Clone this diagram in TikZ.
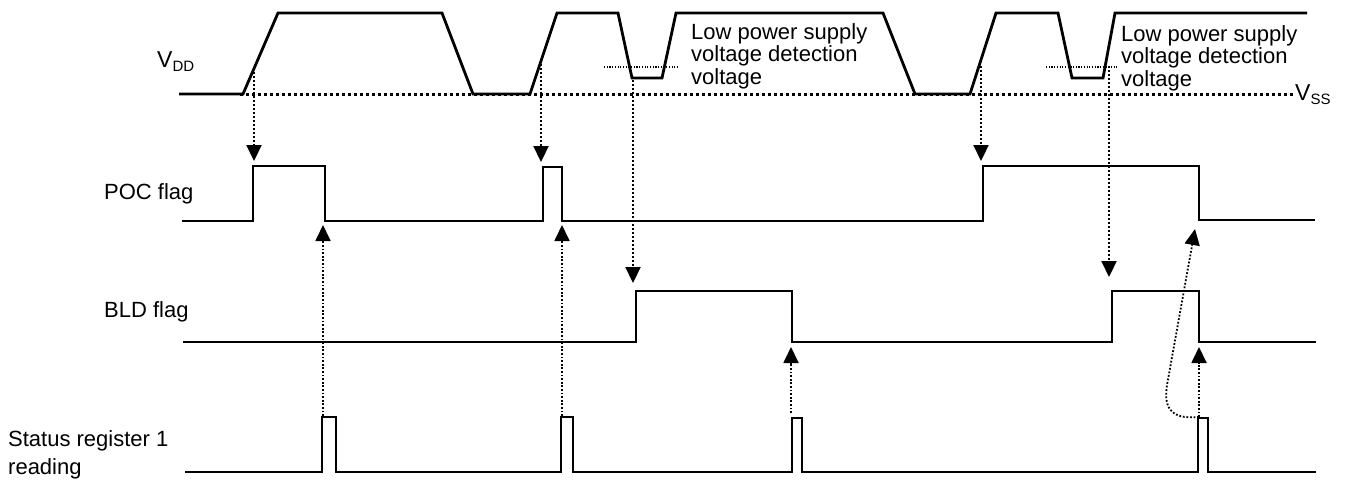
\documentclass[tikz,border=0pt]{standalone}
\usepackage{fontspec}
\setmainfont{Liberation Sans}
\usetikzlibrary{arrows.meta}
\tikzset{
	signal/.style = {
		line width=2.8pt,
		line join=miter
	},
	level_line/.style = {
		line width=3pt,
		dash pattern=on 3pt off 3pt
	},
	detect_line/.style = {
		line width=1.2pt,
		dash pattern=on 1.2pt off 1.5pt
	},
	trig_arrow/.style = {
		->,
		line width=2.2pt,
		dash pattern=on 2.2pt off 1.8pt
	},
	read_arrow/.style = {
		->,
		line width=1.8pt,
		dash pattern=on 1.8pt off 1.8pt
	},
	label_text/.style = {
		inner sep=0pt,
		font=\fontsize{22}{22.5}\selectfont
	},
	note_text/.style = {
		label_text,
		align=left,
		anchor=north west
	},
}
\newcommand{\lowidx}[1]{\raisebox{-4.5pt}{\fontsize{15}{15}\selectfont #1}}

\begin{document}
\begin{tikzpicture}[x=1pt, y=-1pt, >={Triangle[length=16pt,width=15pt]}]
\useasboundingbox (0,0) rectangle (1349,480);

% labels
\node [label_text, anchor=base west, font=\fontsize{23}{23}\selectfont] (vdd) at (157,67) {V\lowidx{DD}};
\node [label_text, anchor=base west, font=\fontsize{23}{23}\selectfont] (vss) at (1295,100) {V\lowidx{SS}};
\node [label_text, anchor=base west] (poc) at (104,199) {POC flag};
\node [label_text, anchor=base west] (bld) at (104,317) {BLD flag};
\node [note_text, font=\fontsize{22}{28}\selectfont] (status) at (8,430) {Status register 1\\reading};
\node [note_text] (detect_a) at (691,23) {Low power supply\\voltage detection\\voltage};
\node [note_text] (detect_b) at (1121,25) {Low power supply\\voltage detection\\voltage};

% VSS level and detection levels
\draw [level_line] (240,94) -- (1293,94);
\draw [detect_line] (604,67) -- (678,67);
\draw [detect_line] (1046,67) -- (1118,67);

% waveforms
\draw [signal] (179,94) -- (243,94) -- (278,13) -- (442,13) -- (473,94) -- (530,94) -- (557,13) -- (618,13) -- (632,78) -- (662,78) -- (676,13) -- (883,13) -- (915,94) -- (970,94) -- (996,13) -- (1058,13) -- (1072,78) -- (1103,78) -- (1115,13) -- (1307,13);
\draw [signal] (182,221) -- (253,221) -- (253,166) -- (325,166) -- (325,221) -- (543,221) -- (543,167) -- (562,167) -- (562,221) -- (983,221) -- (983,166) -- (1199,166) -- (1199,220) -- (1315,220);
\draw [signal] (183,342) -- (636,342) -- (636,291) -- (792,291) -- (792,342) -- (1112,342) -- (1112,291) -- (1199,291) -- (1199,342) -- (1316,342);
\draw [signal] (185,472) -- (322,472) -- (322,417) -- (336,417) -- (336,472) -- (561,472) -- (561,417) -- (573,417) -- (573,472) -- (792,472) -- (792,418) -- (802,418) -- (802,472) -- (1198,472) -- (1198,418) -- (1208,418) -- (1208,472) -- (1316,472);

% arrow ends
\coordinate (vdd_r1) at (254,72);
\coordinate (poc_r1) at (254,161);
\coordinate (vdd_r2) at (541,64);
\coordinate (poc_r2) at (541,162);
\coordinate (vdd_d1) at (633,80);
\coordinate (bld_r1) at (633,283);
\coordinate (vdd_r3) at (981,66);
\coordinate (poc_r3) at (981,161);
\coordinate (vdd_d2) at (1109,66);
\coordinate (bld_r2) at (1109,277);
\coordinate (read_1) at (323,416);
\coordinate (poc_f1) at (323,225);
\coordinate (read_2) at (562,416);
\coordinate (poc_f2) at (562,225);
\coordinate (read_3) at (791,413);
\coordinate (bld_f1) at (791,347);
\coordinate (read_4) at (1199,417);
\coordinate (bld_f2) at (1199,347);
\coordinate (poc_f3) at (1195,229);

% supply events
\draw [trig_arrow] (vdd_r1) -- (poc_r1);
\draw [trig_arrow] (vdd_r2) -- (poc_r2);
\draw [trig_arrow] (vdd_d1) -- (bld_r1);
\draw [trig_arrow] (vdd_r3) -- (poc_r3);
\draw [trig_arrow] (vdd_d2) -- (bld_r2);

% register reads
\draw [read_arrow] (read_1) -- (poc_f1);
\draw [read_arrow] (read_2) -- (poc_f2);
\draw [read_arrow] (read_3) -- (bld_f1);
\draw [read_arrow] (read_4) -- (bld_f2);
\draw [read_arrow] (read_4) .. controls (1168,420) and (1164,405) .. (1167,385) -- (poc_f3);
\end{tikzpicture}
\end{document}
